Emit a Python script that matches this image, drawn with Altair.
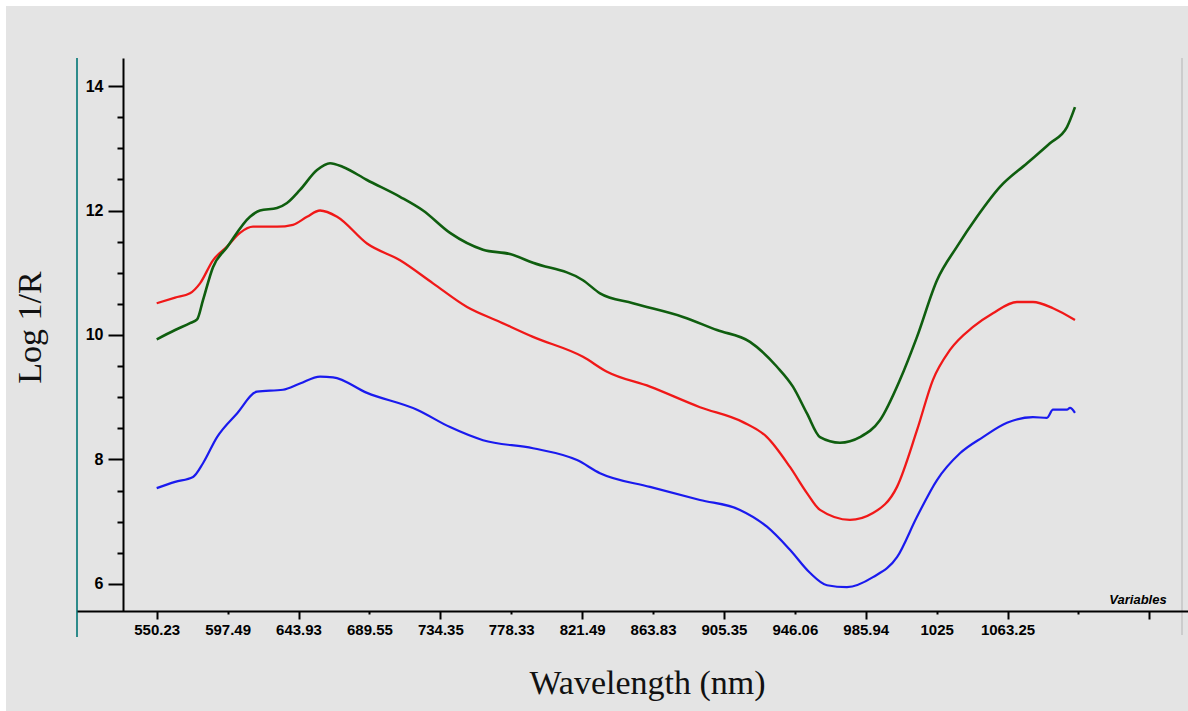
import altair as alt
import pandas as pd

# x values are variable indices (ticks every 100 variables), y values are Log 1/R
tick_labels = ["550.23", "597.49", "643.93", "689.55", "734.35", "778.33", "821.49",
               "863.83", "905.35", "946.06", "985.94", "1025", "1063.25"]
x_ticks = [0, 100, 200, 300, 400, 500, 600, 700, 800, 900, 1000, 1100, 1200, 1300, 1400]
y_ticks = [6, 6.5, 7, 7.5, 8, 8.5, 9, 9.5, 10, 10.5, 11, 11.5, 12, 12.5, 13, 13.5, 14]

x_green = [0, 26, 47, 57, 65.3, 79.4, 99.2, 131.6, 145.7, 169.7, 183.8, 202.1, 226.1, 244.5, 262.8,
           296.6, 343.2, 375.6, 413.7, 460.2, 498.3, 530.7, 601.2, 625.2, 671.7, 742.2, 790.2, 836.7,
           874.8, 897.3, 917.1, 935.5, 963.6, 991.8, 1020, 1048.3, 1072.3, 1100.5, 1128.7, 1156.9,
           1189.3, 1227.5, 1259.8, 1283.8, 1295.1]
y_green = [9.93, 10.08, 10.19, 10.25, 10.56, 11.09, 11.41, 11.9, 12.0, 12.04, 12.12, 12.33, 12.65,
           12.76, 12.7, 12.49, 12.22, 12.0, 11.64, 11.37, 11.3, 11.16, 10.88, 10.67, 10.51, 10.29,
           10.08, 9.89, 9.49, 9.17, 8.74, 8.36, 8.27, 8.36, 8.63, 9.28, 9.97, 10.88, 11.42, 11.9,
           12.38, 12.76, 13.08, 13.34, 13.66]

x_red = [0, 26, 47, 61.1, 79.4, 99.2, 117.5, 135.8, 169.7, 192.2, 212, 230.4, 254.4, 296.6, 343.2,
         389.7, 437.7, 484.2, 530.7, 601.2, 635.1, 695.7, 766.2, 826.9, 860.7, 893.1, 917.1, 935.5,
         977.7, 1010.2, 1044.1, 1072.3, 1094.8, 1118.8, 1151.3, 1179.4, 1213.3, 1235.9, 1264.1, 1295.1]
y_red = [10.51, 10.6, 10.67, 10.83, 11.2, 11.42, 11.64, 11.74, 11.74, 11.77, 11.9, 12.0, 11.9, 11.47,
         11.2, 10.83, 10.45, 10.21, 9.97, 9.65, 9.41, 9.17, 8.84, 8.6, 8.36, 7.88, 7.46, 7.19, 7.03,
         7.14, 7.56, 8.47, 9.28, 9.76, 10.13, 10.35, 10.53, 10.53, 10.43, 10.24]

x_blue = [0, 26, 51.2, 65.3, 85.1, 113.3, 141.5, 178.1, 202.1, 230.4, 248.7, 296.6, 367.1, 413.7,
          460.2, 530.7, 592.8, 625.2, 695.7, 766.2, 822.6, 860.7, 893.1, 921.3, 945.3, 973.5, 1010.2,
          1044.1, 1072.3, 1100.5, 1132.9, 1165.3, 1199.2, 1235.9, 1255.6, 1264.1, 1283.8, 1288.1, 1295.1]
y_blue = [7.54, 7.64, 7.72, 7.94, 8.36, 8.74, 9.09, 9.12, 9.22, 9.33, 9.32, 9.07, 8.8, 8.52, 8.31,
          8.18, 7.99, 7.78, 7.56, 7.35, 7.19, 6.92, 6.55, 6.18, 5.98, 5.95, 6.11, 6.43, 7.08, 7.67,
          8.1, 8.36, 8.59, 8.68, 8.67, 8.8, 8.8, 8.83, 8.75]

W, H = 1111, 553
x_scale = alt.Scale(domain=[-112.4, 1454.5], nice=False, zero=False)
y_scale = alt.Scale(domain=[5.566, 14.45], nice=False, zero=False)

label_arr = "[" + ",".join("'%s'" % l for l in tick_labels) + "]"
x_label_expr = "datum.value / 100 < %d ? %s[round(datum.value / 100)] : ''" % (len(tick_labels), label_arr)

x_axis = alt.Axis(
    values=x_ticks, labelExpr=x_label_expr, grid=False, zindex=1,
    domainColor="black", domainWidth=2, tickColor="black", tickWidth=2,
    tickSize={"condition": {"test": "datum.value % 200 === 0", "value": 8}, "value": 3},
    labelPadding={"condition": {"test": "datum.value % 200 === 0", "value": 3}, "value": 8},
    labelFont="Liberation Sans", labelFontWeight="bold", labelFontSize=15, labelColor="black",
    labelOverlap=False,
    title="Wavelength (nm)", titleFont="Liberation Serif", titleFontSize=34,
    titleFontWeight="normal", titleColor="#111111", titleX=570, titleY=82,
    titleAlign="center", titleBaseline="alphabetic",
)
y_axis = alt.Axis(
    values=y_ticks, offset=-46, grid=False, zindex=1,
    labelExpr="datum.value % 2 === 0 ? format(datum.value, 'd') : ''",
    domainColor="black", domainWidth=2, tickColor="black", tickWidth=2,
    tickSize={"condition": {"test": "datum.value % 2 === 0", "value": 15}, "value": 6},
    labelFont="Liberation Sans", labelFontWeight="bold", labelFontSize=16, labelColor="black",
    labelPadding=5, labelOverlap=False,
    title="Log 1/R", titleFont="Liberation Serif", titleFontSize=34, titleFontWeight="normal",
    titleColor="#111111", titleX=-83, titleY=269, titleAlign="center", titleBaseline="alphabetic",
    titleAngle=270,
)

one = pd.DataFrame({"a": [0]})
bg = alt.Chart(one).mark_rect(color="#e4e4e4").encode(
    x=alt.value(-71), x2=alt.value(W), y=alt.value(-52), y2=alt.value(H + 100))
teal = alt.Chart(one).mark_rule(color="#2e8b8b", strokeWidth=2).encode(
    x=alt.value(0), y=alt.value(0), y2=alt.value(579))
right = alt.Chart(one).mark_rule(color="#cccccc", strokeWidth=2).encode(
    x=alt.value(1105), y=alt.value(0), y2=alt.value(577))
varlab = alt.Chart(one).mark_text(font="Liberation Sans", fontStyle="italic", fontWeight="bold",
                                  fontSize=13, align="center", baseline="alphabetic",
                                  color="black").encode(
    x=alt.value(1061), y=alt.value(546), text=alt.value("Variables"))


def line(xs, ys, color, width):
    df = pd.DataFrame({"var": xs, "val": ys})
    return alt.Chart(df).mark_line(color=color, strokeWidth=width, interpolate="monotone").encode(
        x=alt.X("var:Q", scale=x_scale, axis=x_axis),
        y=alt.Y("val:Q", scale=y_scale, axis=y_axis),
    )


chart = alt.layer(
    bg, teal, right,
    line(x_blue, y_blue, "#1a1aee", 2.2),
    line(x_red, y_red, "#f01818", 2.3),
    line(x_green, y_green, "#0f5e0f", 2.6),
    varlab,
).properties(
    width=W, height=H,
    autosize=alt.AutoSizeParams(type="none"),
    padding={"left": 77, "top": 58, "right": 0, "bottom": 100},
    background="white",
).configure_view(stroke=None)

chart.save("out.html", embed_options={"renderer": "svg", "actions": False})
